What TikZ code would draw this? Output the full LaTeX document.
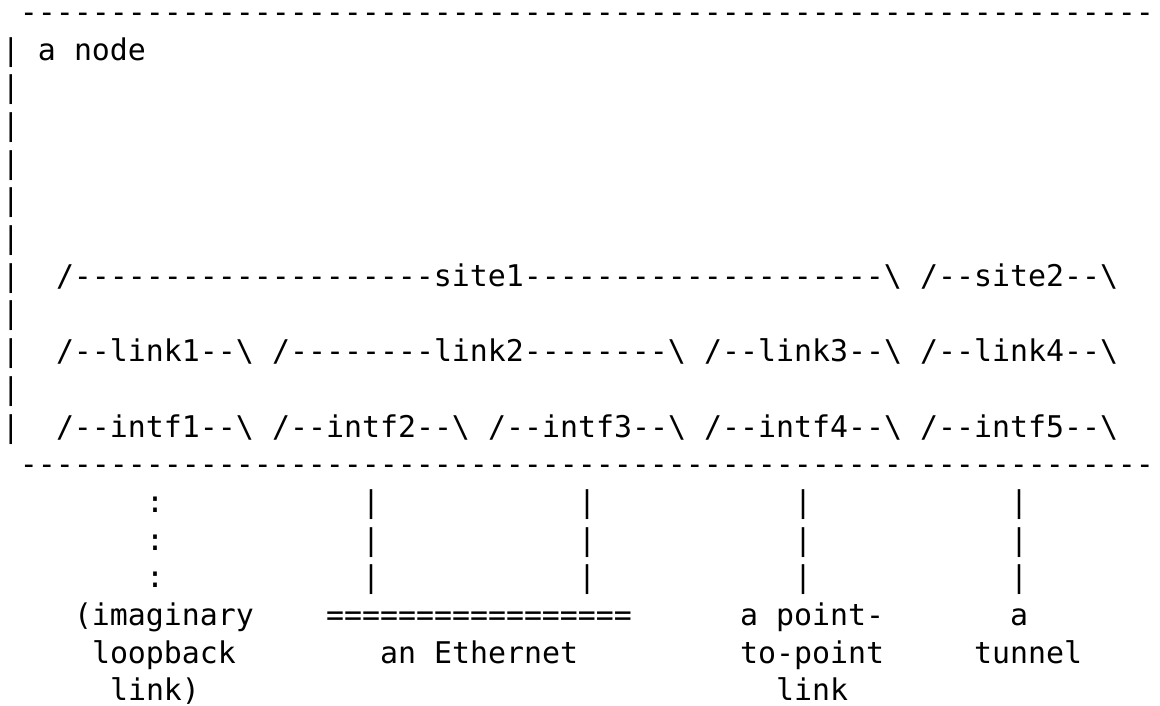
\documentclass[tikz,border=0pt]{standalone}
\usepackage{fontspec}
\setmonofont{DejaVu Sans Mono}
\begin{document}
\begin{tikzpicture}[x=18pt,y=-37.7pt,
  cell/.style={anchor=base west,inner sep=0pt,outer sep=0pt,
    font=\ttfamily\fontsize{29.9pt}{37.7pt}\selectfont,text=black}]
\fill[white] (0,0) rectangle (64.4444,18.7003);
\useasboundingbox (0,0) rectangle (64.4444,18.7003);
\newcommand\cellat[4]{\node[cell] (#1) at (#2,#3) {#4};}
\begin{scope}[shift={(0.1111,0.5915)}]
% top border
\cellat{top}{1}{0}{---------------------------------------------------------------}
% left border bars
\foreach \r in {1,...,11} {\node[cell] (bar\r) at (0,\r) {|};}
\cellat{lblA}{2}{1}{a}
\cellat{lblNode}{4}{1}{node}
% sites
\cellat{site1}{3}{7}{/--------------------site1--------------------\textbackslash}
\cellat{site2}{51}{7}{/--site2--\textbackslash}
% links
\cellat{link1}{3}{9}{/--link1--\textbackslash}
\cellat{link2}{15}{9}{/--------link2--------\textbackslash}
\cellat{link3}{39}{9}{/--link3--\textbackslash}
\cellat{link4}{51}{9}{/--link4--\textbackslash}
% interfaces
\cellat{intf1}{3}{11}{/--intf1--\textbackslash}
\cellat{intf2}{15}{11}{/--intf2--\textbackslash}
\cellat{intf3}{27}{11}{/--intf3--\textbackslash}
\cellat{intf4}{39}{11}{/--intf4--\textbackslash}
\cellat{intf5}{51}{11}{/--intf5--\textbackslash}
% bottom border
\cellat{bottom}{1}{12}{---------------------------------------------------------------}
% attachments
\foreach \r in {13,14,15} {
  \node[cell] (dots\r) at (8,\r) {:};
  \node[cell] (eA\r) at (20,\r) {|};
  \node[cell] (eB\r) at (32,\r) {|};
  \node[cell] (pp\r) at (44,\r) {|};
  \node[cell] (tn\r) at (56,\r) {|};
}
% labels
\cellat{imag}{4}{16}{(imaginary}
\cellat{loop}{5}{17}{loopback}
\cellat{lnkA}{6}{18}{link)}
\cellat{ether}{18}{16}{=================}
\cellat{an}{21}{17}{an}
\cellat{eth}{24}{17}{Ethernet}
\cellat{ppA}{41}{16}{a}
\cellat{ppB}{43}{16}{point-}
\cellat{ppC}{41}{17}{to-point}
\cellat{ppD}{43}{18}{link}
\cellat{tuA}{56}{16}{a}
\cellat{tuB}{54}{17}{tunnel}
\end{scope}
\end{tikzpicture}
\end{document}
